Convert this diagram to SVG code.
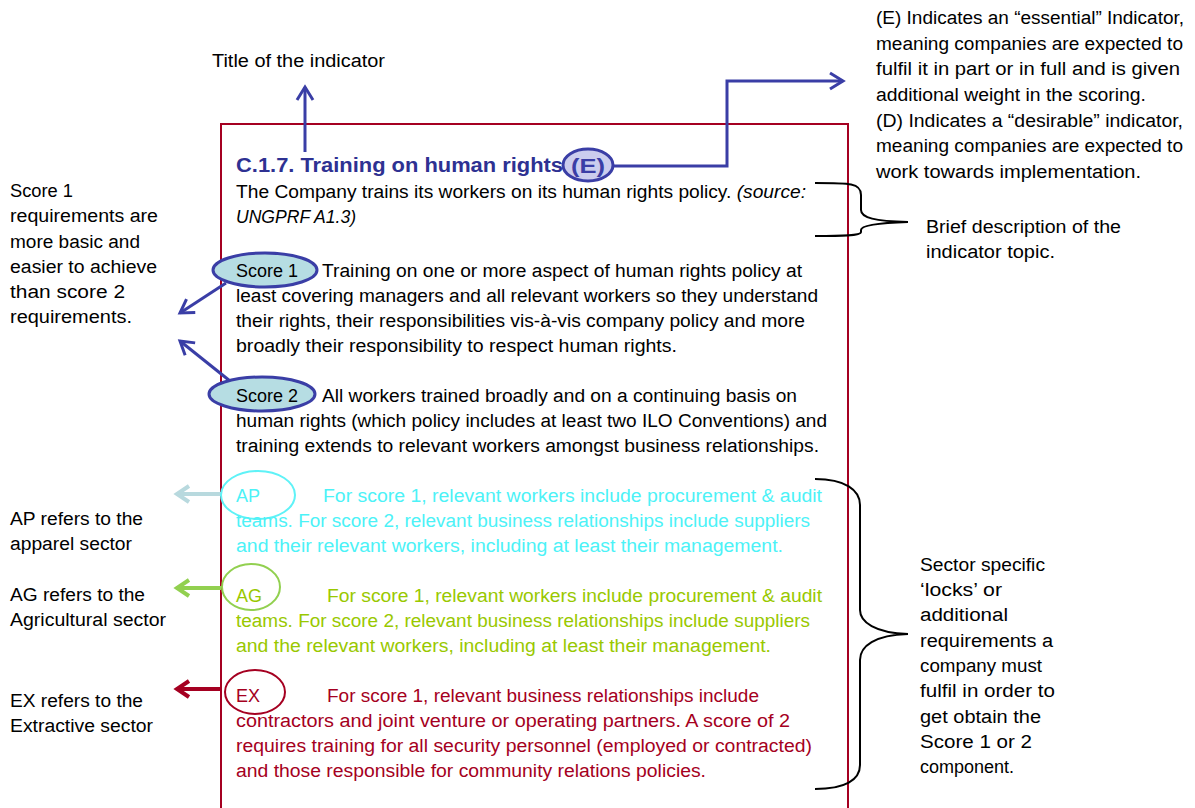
<svg xmlns="http://www.w3.org/2000/svg" width="1195" height="808" viewBox="0 0 1195 808">
<style>
text{font-family:"Liberation Sans",Arial,sans-serif;font-size:18px;fill:#000}
.t{fill:#2e3192;font-weight:bold;font-size:20px}
.e{fill:#3a3ea6;font-size:20px;font-weight:bold}
.ap{fill:#4cf2f7}
.ag{fill:#99c800}
.ex{fill:#a50021}
.blue{stroke:#3a3ea6;stroke-width:3;fill:none}
.brace{stroke:#000;stroke-width:2;fill:none}
</style>
<defs>
<marker id="mb" markerUnits="userSpaceOnUse" markerWidth="30" markerHeight="30" refX="0" refY="0" viewBox="-15 -15 30 30" orient="auto"><path d="M-13,-8 L0,0 L-13,8" fill="none" stroke="#3a3ea6" stroke-width="3"/></marker>
<marker id="mc" markerUnits="userSpaceOnUse" markerWidth="30" markerHeight="30" refX="0" refY="0" viewBox="-15 -15 30 30" orient="auto"><path d="M-12,-8 L0,0 L-12,8" fill="none" stroke="#b8d9de" stroke-width="4"/></marker>
<marker id="mg" markerUnits="userSpaceOnUse" markerWidth="30" markerHeight="30" refX="0" refY="0" viewBox="-15 -15 30 30" orient="auto"><path d="M-12,-8 L0,0 L-12,8" fill="none" stroke="#92d050" stroke-width="4"/></marker>
<marker id="mr" markerUnits="userSpaceOnUse" markerWidth="30" markerHeight="30" refX="0" refY="0" viewBox="-15 -15 30 30" orient="auto"><path d="M-12,-8 L0,0 L-12,8" fill="none" stroke="#a50021" stroke-width="4"/></marker>
</defs>
<rect width="1195" height="808" fill="#fff"/>
<g id="box"><path d="M221,810 V124 H848 V810" fill="none" stroke="#a50021" stroke-width="2"/></g>

<g id="connectors">
<path class="blue" d="M305,152 V87" marker-end="url(#mb)"/>
<path class="blue" d="M613,166 H727 V81 H843" marker-end="url(#mb)"/>
<path class="blue" d="M226,283 L180,313" marker-end="url(#mb)"/>
<path class="blue" d="M230,381 L180,341" marker-end="url(#mb)"/>
<path d="M221,494 H177" stroke="#b8d9de" stroke-width="4" fill="none" marker-end="url(#mc)"/>
<path d="M221,588 H177" stroke="#92d050" stroke-width="4" fill="none" marker-end="url(#mg)"/>
<path d="M221,689 H177" stroke="#a50021" stroke-width="4" fill="none" marker-end="url(#mr)"/>
<path class="brace" d="M815,183 C850,183 861,183 861,195 V210 C861,218 875,221 908,222 C875,223 861,226 861,230 V232 C861,236 840,236 815,236"/>
<path class="brace" d="M815,479 C845,479 860,490 860,505 V610 C860,622 875,633 908,634 C875,635 860,646 860,660 V765 C860,780 845,789 815,789"/>
</g>

<g id="title-label"><text x="212" y="67" textLength="173" lengthAdjust="spacingAndGlyphs">Title of the indicator</text></g>

<g id="indicator">
<text class="t" x="236" y="172" textLength="327" lengthAdjust="spacingAndGlyphs">C.1.7. Training on human rights</text>
<ellipse cx="588" cy="165" rx="25" ry="16" fill="#cbcdee" stroke="#3a3ea6" stroke-width="3"/>
<text class="e" x="571" y="173" textLength="34" lengthAdjust="spacingAndGlyphs">(E)</text>
<text x="236" y="198" textLength="570" lengthAdjust="spacingAndGlyphs">The Company trains its workers on its human rights policy. <tspan font-style="italic">(source:</tspan></text>
<text x="236" y="223" font-style="italic" textLength="120" lengthAdjust="spacingAndGlyphs">UNGPRF A1.3)</text>
</g>

<g id="score1">
<ellipse cx="265" cy="270" rx="52" ry="17" fill="#b6dde3" stroke="#3a3ea6" stroke-width="3"/>
<text x="236" y="277" textLength="62" lengthAdjust="spacingAndGlyphs">Score 1</text>
<text x="322" y="277" textLength="480" lengthAdjust="spacingAndGlyphs">Training on one or more aspect of human rights policy at</text>
<text x="236" y="302" textLength="582" lengthAdjust="spacingAndGlyphs">least covering managers and all relevant workers so they understand</text>
<text x="236" y="327" textLength="569" lengthAdjust="spacingAndGlyphs">their rights, their responsibilities vis-à-vis company policy and more</text>
<text x="236" y="352" textLength="441" lengthAdjust="spacingAndGlyphs">broadly their responsibility to respect human rights.</text>
</g>

<g id="score2">
<ellipse cx="262" cy="394" rx="53" ry="17" fill="#b6dde3" stroke="#3a3ea6" stroke-width="3"/>
<text x="236" y="402" textLength="62" lengthAdjust="spacingAndGlyphs">Score 2</text>
<text x="322" y="402" textLength="475" lengthAdjust="spacingAndGlyphs">All workers trained broadly and on a continuing basis on</text>
<text x="236" y="427" textLength="591" lengthAdjust="spacingAndGlyphs">human rights (which policy includes at least two ILO Conventions) and</text>
<text x="236" y="452" textLength="583" lengthAdjust="spacingAndGlyphs">training extends to relevant workers amongst business relationships.</text>
</g>

<g id="ap">
<ellipse cx="258" cy="495" rx="37" ry="24" fill="none" stroke="#5ff2f7" stroke-width="2"/>
<text class="ap" x="236" y="502">AP</text>
<text class="ap" x="323" y="502" textLength="499" lengthAdjust="spacingAndGlyphs">For score 1, relevant workers include procurement &amp; audit</text>
<text class="ap" x="236" y="527" textLength="574" lengthAdjust="spacingAndGlyphs">teams. For score 2, relevant business relationships include suppliers</text>
<text class="ap" x="236" y="552" textLength="547" lengthAdjust="spacingAndGlyphs">and their relevant workers, including at least their management.</text>
</g>

<g id="ag">
<ellipse cx="251" cy="587" rx="29" ry="23" fill="none" stroke="#92d050" stroke-width="2"/>
<text class="ag" x="236" y="602">AG</text>
<text class="ag" x="327" y="602" textLength="495" lengthAdjust="spacingAndGlyphs">For score 1, relevant workers include procurement &amp; audit</text>
<text class="ag" x="236" y="627" textLength="574" lengthAdjust="spacingAndGlyphs">teams. For score 2, relevant business relationships include suppliers</text>
<text class="ag" x="236" y="652" textLength="535" lengthAdjust="spacingAndGlyphs">and the relevant workers, including at least their management.</text>
</g>

<g id="ex">
<ellipse cx="255" cy="692" rx="30" ry="22" fill="none" stroke="#a50021" stroke-width="2"/>
<text class="ex" x="236" y="702">EX</text>
<text class="ex" x="327" y="702" textLength="432" lengthAdjust="spacingAndGlyphs">For score 1, relevant business relationships include</text>
<text class="ex" x="236" y="727" textLength="554" lengthAdjust="spacingAndGlyphs">contractors and joint venture or operating partners. A score of 2</text>
<text class="ex" x="236" y="752" textLength="576" lengthAdjust="spacingAndGlyphs">requires training for all security personnel (employed or contracted)</text>
<text class="ex" x="236" y="777" textLength="470" lengthAdjust="spacingAndGlyphs">and those responsible for community relations policies.</text>
</g>

<g id="left-score-note">
<text x="10" y="197" textLength="63" lengthAdjust="spacingAndGlyphs">Score 1</text>
<text x="10" y="222" textLength="148" lengthAdjust="spacingAndGlyphs">requirements are</text>
<text x="10" y="248" textLength="130" lengthAdjust="spacingAndGlyphs">more basic and</text>
<text x="10" y="273" textLength="147" lengthAdjust="spacingAndGlyphs">easier to achieve</text>
<text x="10" y="298" textLength="115" lengthAdjust="spacingAndGlyphs">than score 2</text>
<text x="10" y="323" textLength="122" lengthAdjust="spacingAndGlyphs">requirements.</text>
</g>

<g id="left-ap"><text x="10" y="525" textLength="133" lengthAdjust="spacingAndGlyphs">AP refers to the</text><text x="10" y="550" textLength="122" lengthAdjust="spacingAndGlyphs">apparel sector</text></g>
<g id="left-ag"><text x="10" y="601" textLength="135" lengthAdjust="spacingAndGlyphs">AG refers to the</text><text x="10" y="626" textLength="156" lengthAdjust="spacingAndGlyphs">Agricultural sector</text></g>
<g id="left-ex"><text x="10" y="707" textLength="133" lengthAdjust="spacingAndGlyphs">EX refers to the</text><text x="10" y="732" textLength="143" lengthAdjust="spacingAndGlyphs">Extractive sector</text></g>

<g id="right-ed-note">
<text x="876" y="24" textLength="308" lengthAdjust="spacingAndGlyphs">(E) Indicates an “essential” Indicator,</text>
<text x="876" y="50" textLength="307" lengthAdjust="spacingAndGlyphs">meaning companies are expected to</text>
<text x="876" y="75" textLength="304" lengthAdjust="spacingAndGlyphs">fulfil it in part or in full and is given</text>
<text x="876" y="101" textLength="270" lengthAdjust="spacingAndGlyphs">additional weight in the scoring.</text>
<text x="876" y="127" textLength="307" lengthAdjust="spacingAndGlyphs">(D) Indicates a “desirable” indicator,</text>
<text x="876" y="152" textLength="307" lengthAdjust="spacingAndGlyphs">meaning companies are expected to</text>
<text x="876" y="178" textLength="265" lengthAdjust="spacingAndGlyphs">work towards implementation.</text>
</g>

<g id="right-desc"><text x="926" y="233" textLength="195" lengthAdjust="spacingAndGlyphs">Brief description of the</text><text x="926" y="258" textLength="129" lengthAdjust="spacingAndGlyphs">indicator topic.</text></g>

<g id="right-sector">
<text x="920" y="571" textLength="125" lengthAdjust="spacingAndGlyphs">Sector specific</text>
<text x="920" y="596" textLength="82" lengthAdjust="spacingAndGlyphs">‘locks’ or</text>
<text x="920" y="621" textLength="88" lengthAdjust="spacingAndGlyphs">additional</text>
<text x="920" y="647" textLength="133" lengthAdjust="spacingAndGlyphs">requirements a</text>
<text x="920" y="672" textLength="122" lengthAdjust="spacingAndGlyphs">company must</text>
<text x="920" y="697" textLength="135" lengthAdjust="spacingAndGlyphs">fulfil in order to</text>
<text x="920" y="723" textLength="121" lengthAdjust="spacingAndGlyphs">get obtain the</text>
<text x="920" y="748" textLength="112" lengthAdjust="spacingAndGlyphs">Score 1 or 2</text>
<text x="920" y="773">component.</text>
</g>
</svg>
